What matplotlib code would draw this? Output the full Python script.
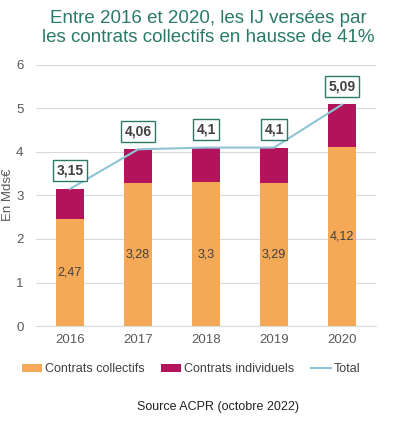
import matplotlib
matplotlib.use("Agg")
import matplotlib.pyplot as plt
import numpy as np

years = ["2016", "2017", "2018", "2019", "2020"]
collectifs = [2.47, 3.28, 3.3, 3.29, 4.12]
totals = [3.15, 4.06, 4.1, 4.1, 5.09]
individuels = [round(t - c, 2) for t, c in zip(totals, collectifs)]
yticks = [0, 1, 2, 3, 4, 5, 6]

def fr(v):
    return f"{v:g}".replace(".", ",")

plt.rcParams['font.family'] = ['Liberation Sans', 'DejaVu Sans']

fig = plt.figure(figsize=(4.04, 4.24), dpi=100)
ax = fig.add_axes([0.089, 0.231, 0.842, 0.616])

x = np.arange(len(years))
orange = "#F4A957"
magenta = "#B3135A"
lineblue = "#8EC4D3"
teal = "#2A7A68"

b1 = ax.bar(x, collectifs, width=0.41, color=orange, label="Contrats collectifs", zorder=2)
b2 = ax.bar(x, individuels, width=0.41, bottom=collectifs, color=magenta, label="Contrats individuels", zorder=2)
l1, = ax.plot(x, totals, color=lineblue, lw=1.5, label="Total", zorder=3)

for xi, c in zip(x, collectifs):
    ax.text(xi, c / 2, fr(c), ha="center", va="center", fontsize=9, color="#404040", zorder=4)
for xi, t in zip(x, totals):
    ax.annotate(fr(t), (xi, t), xytext=(0, 13), textcoords="offset points",
                ha="center", va="center", fontsize=10, fontweight="bold", color="#404040",
                bbox=dict(boxstyle="square,pad=0.25", fc="white", ec=teal, lw=1.0), zorder=5)

ax.set_xlim(-0.5, 4.5)
ax.set_ylim(0, 6)
ax.set_yticks(yticks)
ax.set_xticks(x)
ax.set_xticklabels(years)
ax.tick_params(axis="both", length=0, labelsize=9.5, colors="#595959")
ax.tick_params(axis="x", pad=6)
ax.tick_params(axis="y", pad=9)
ax.grid(axis="y", color="#D9D9D9", lw=0.8, zorder=0)
for s in ["top", "right", "left"]:
    ax.spines[s].set_visible(False)
ax.spines["bottom"].set_color("#D9D9D9")
fig.text(0.021, 0.54, "En Mds€", rotation=90, ha="center", va="center", fontsize=9.5, color="#595959")

fig.text(0.515, 0.934, "Entre 2016 et 2020, les IJ versées par\nles contrats collectifs en hausse de 41%",
         ha="center", va="center", fontsize=13.5, color=teal, linespacing=1.15)

ax.legend([b1, b2, l1], ["Contrats collectifs", "Contrats individuels", "Total"],
          loc="upper center", bbox_to_anchor=(0.456, -0.1), ncol=3, frameon=False,
          fontsize=9, handlelength=1.6, handleheight=0.5, columnspacing=1.35, handletextpad=0.2,
          labelcolor="#404040")

fig.text(0.54, 0.04, "Source ACPR (octobre 2022)", ha="center", va="center", fontsize=9, color="#222222")

fig.savefig("out.png", dpi=100)
